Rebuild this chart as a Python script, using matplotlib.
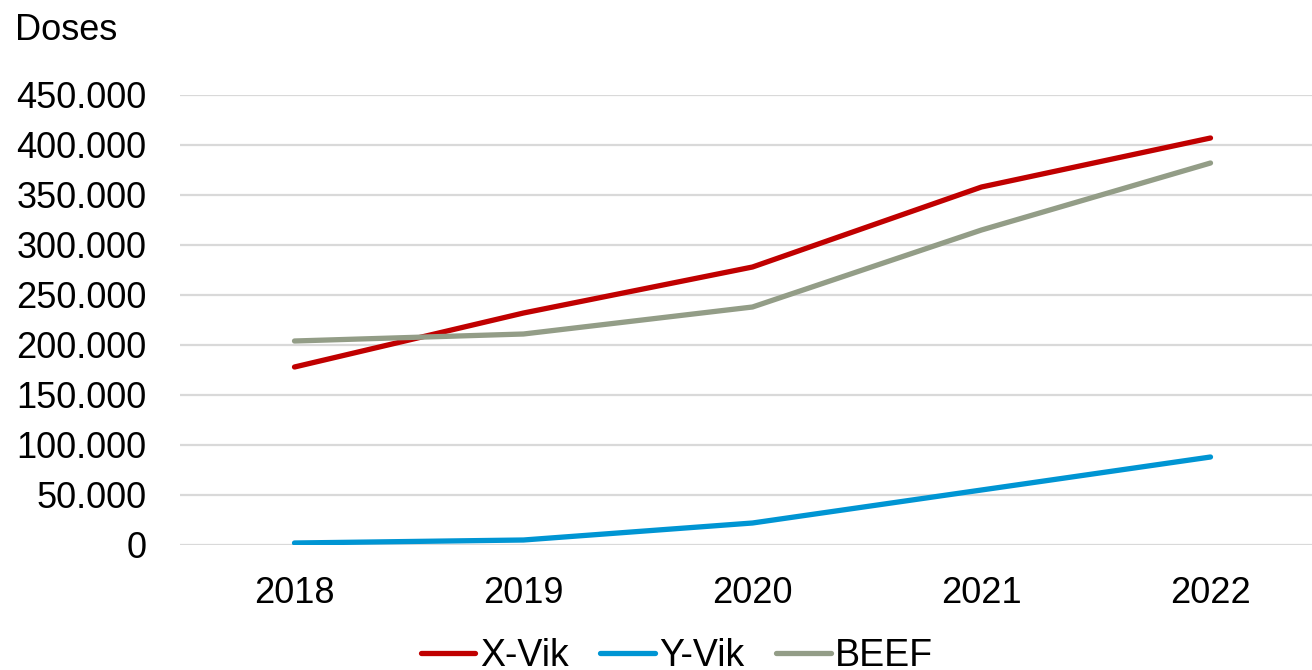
import matplotlib.pyplot as plt
import matplotlib.ticker as mticker

years = ["2018", "2019", "2020", "2021", "2022"]
x_vik = [178000, 232000, 278000, 358000, 407000]
y_vik = [2000, 5000, 22000, 55000, 88000]
beef = [204000, 211000, 238000, 315000, 382000]

plt.rcParams['font.family'] = ['Liberation Sans', 'DejaVu Sans']

W, H = 1312, 670
fig = plt.figure(figsize=(W/100, H/100), dpi=100)
ax = fig.add_axes([180/W, (H-545)/H, 1145/W, 450/H])

xs = range(len(years))
ax.plot(xs, x_vik, color="#C00000", lw=3.8, solid_capstyle="round", label="X-Vik")
ax.plot(xs, y_vik, color="#0095D3", lw=3.8, solid_capstyle="round", label="Y-Vik")
ax.plot(xs, beef, color="#939D87", lw=3.8, solid_capstyle="round", label="BEEF")

ax.set_xlim(-0.5, len(years)-0.5)
ax.set_ylim(0, 450000)
ax.set_yticks(range(0, 450001, 50000))
ax.yaxis.set_major_formatter(mticker.FuncFormatter(lambda v, p: "{:,.0f}".format(v).replace(",", ".")))
ax.set_xticks(list(xs))
ax.set_xticklabels(years)
ax.tick_params(axis="both", length=0, labelsize=26)
ax.tick_params(axis="y", pad=24)
ax.tick_params(axis="x", pad=22)
ax.grid(axis="y", color="#D9D9D9", lw=1.6)
ax.set_axisbelow(True)
for s in ax.spines.values():
    s.set_visible(False)

fig.text(15/W, 1-30/H, "Doses", fontsize=26, va="center", ha="left")

fig.legend(loc="center", bbox_to_anchor=(677/W, 14/H), ncol=3, frameon=False,
           fontsize=27, handlelength=1.45, handletextpad=0.12, columnspacing=0.85)

fig.savefig("out.png", dpi=100)
